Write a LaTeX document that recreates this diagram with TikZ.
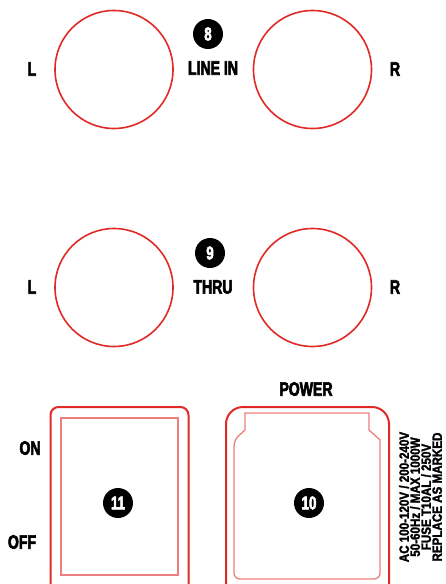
\documentclass[tikz,border=0pt]{standalone}
\usepackage{fontspec}
\setmainfont[FakeStretch=0.72,BoldFeatures={FakeBold=3}]{Liberation Sans}
\newfontfamily\ratingfont[FakeStretch=0.86,BoldFeatures={FakeBold=2}]{Liberation Sans}
\definecolor{jackred}{RGB}{224,42,38}

\begin{document}
\begin{tikzpicture}[x=1pt,y=-1pt,
  lbl/.style={font=\bfseries\fontsize{19.5}{19.5}\selectfont,inner sep=0pt},
  badge/.style={circle,fill=black,text=white,minimum size=30pt,inner sep=0pt,
    font=\bfseries\fontsize{18.5}{18.5}\selectfont},
  jack/.style={jackred,line width=1.6pt},
  outer/.style={jackred,line width=2pt},
  inner/.style={jackred!60,line width=1.3pt}]

% Rahmen
\clip (0,0) rectangle (446,584);

% LINE IN Buchsen
\draw[jack] (114,69.5) circle[radius=59];
\draw[jack] (312.5,69.5) circle[radius=59];
\node[badge] (b8) at (208,34) {8};
\node[lbl] (linein) at (213,68) {LINE IN};
\node[lbl] (inL) at (32,69) {L};
\node[lbl] (inR) at (395,69) {R};

% THRU Buchsen
\draw[jack] (114,287.5) circle[radius=59];
\draw[jack] (312.5,287.5) circle[radius=59];
\node[badge] (b9) at (210,253) {9};
\node[lbl] (thru) at (213,287) {THRU};
\node[lbl] (thruL) at (32,287) {L};
\node[lbl] (thruR) at (395,287) {R};

% Schalter
\draw[outer,rounded corners=8pt] (50.5,407) rectangle (188.5,596);
\draw[inner] (61,418) rectangle (178,575);
\node[badge] (b11) at (118,503) {11};
\node[lbl] (on) at (30,448) {ON};
\node[lbl] (off) at (22,542) {OFF};

% Netzbuchse
\draw[outer,rounded corners=17pt] (226,407) rectangle (389,604);
\draw[inner] (245,413) -- (369,413) -- (369,430) -- (380,440)
  [rounded corners=6pt] -- (380,579) -- (234,579) -- (234,440)
  [sharp corners] -- (245,430) -- cycle;
\node[badge] (b10) at (309,503) {10};
\node[lbl] (power) at (306,389) {POWER};

% Angaben
\node[rotate=90,align=center,inner sep=0pt,
  font=\ratingfont\bfseries\fontsize{13.5}{11}\selectfont] (rating) at (420.5,497)
  {AC 100-120V / 200-240V\\50-60Hz / MAX 1000W\\FUSE T10AL / 250V\\REPLACE AS MARKED};

\end{tikzpicture}
\end{document}
